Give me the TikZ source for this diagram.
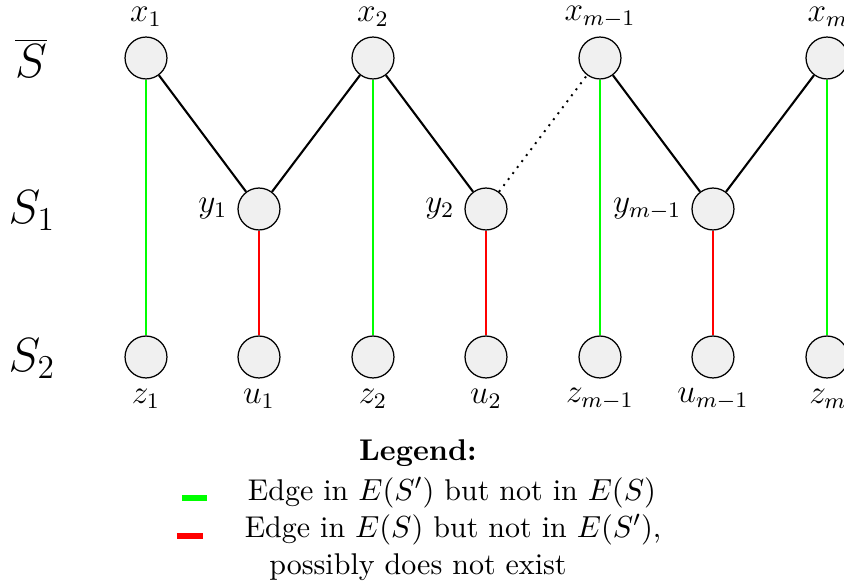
\documentclass[tikz,border=0pt]{standalone}
\usetikzlibrary{calc}
\definecolor{nodefill}{RGB}{240,240,240}
\begin{document}
\begin{tikzpicture}[x=0.36pt,y=-0.36pt,
  vtx/.style={circle,draw=black,line width=0.45pt,fill=nodefill,minimum size=15.1pt,inner sep=0pt},
  lbl/.style={font=\large,inner sep=0pt},
  setlbl/.style={font=\fontsize{18}{22}\selectfont,inner sep=0pt},
  blk/.style={line width=0.75pt,black},
  grn/.style={line width=0.75pt,green},
  rd/.style={line width=0.75pt,red},
  dot/.style={line width=0.7pt,dotted},
  legtxt/.style={font=\fontsize{10.8}{13}\selectfont,inner sep=0pt}]
\useasboundingbox (0,0) rectangle (844,588);
\clip (0,0) rectangle (844,588);
% set labels
\node[setlbl] (sbar) at (31,58) {$\overline{S}$};
\node[setlbl] (s1) at (32,211) {$S_1$};
\node[setlbl] (s2) at (32,359) {$S_2$};
% top row
\node[vtx] (x1) at (146,58) {};
\node[vtx] (x2) at (373,58) {};
\node[vtx] (xm1) at (600,58) {};
\node[vtx] (xm) at (827,58) {};
% middle row
\node[vtx] (y1) at (259,209) {};
\node[vtx] (y2) at (486,209) {};
\node[vtx] (ym1) at (713,209) {};
% bottom row
\node[vtx] (z1) at (146,357) {};
\node[vtx] (u1) at (259,357) {};
\node[vtx] (z2) at (373,357) {};
\node[vtx] (u2) at (486,357) {};
\node[vtx] (zm1) at (600,357) {};
\node[vtx] (um1) at (713,357) {};
\node[vtx] (zm) at (827,357) {};
% labels
\node[lbl] (lx1) at (146,17) {$x_1$};
\node[lbl] (lx2) at (373,17) {$x_2$};
\node[lbl] (lxm1) at (600,17) {$x_{m-1}$};
\node[lbl] (lxm) at (828,17) {$x_m$};
\node[lbl,anchor=east] (ly1) at (228,209) {$y_1$};
\node[lbl,anchor=east] (ly2) at (455,209) {$y_2$};
\node[lbl,anchor=east] (lym1) at (682,209) {$y_{m-1}$};
\node[lbl] (lz1) at (146,399) {$z_1$};
\node[lbl] (lu1) at (259,399) {$u_1$};
\node[lbl] (lz2) at (373,399) {$z_2$};
\node[lbl] (lu2) at (486,399) {$u_2$};
\node[lbl] (lzm1) at (600,399) {$z_{m-1}$};
\node[lbl] (lum1) at (713,399) {$u_{m-1}$};
\node[lbl] (lzm) at (828,399) {$z_m$};
% edges
\draw[grn] (x1) -- (z1);
\draw[grn] (x2) -- (z2);
\draw[grn] (xm1) -- (zm1);
\draw[grn] (xm) -- (zm);
\draw[rd] (y1) -- (u1);
\draw[rd] (y2) -- (u2);
\draw[rd] (ym1) -- (um1);
\draw[blk] (x1) -- (y1);
\draw[blk] (y1) -- (x2);
\draw[blk] (x2) -- (y2);
\draw[dot] (y2) -- (xm1);
\draw[blk] (xm1) -- (ym1);
\draw[blk] (ym1) -- (xm);
% legend
\node[legtxt] (legtitle) at (418,453) {\textbf{Legend:}};
\coordinate (g1) at (182,498);
\coordinate (g2) at (207,498);
\draw[green,line width=2.2pt] (g1) -- (g2);
\coordinate (r1) at (177,536);
\coordinate (r2) at (203,536);
\draw[red,line width=2.2pt] (r1) -- (r2);
\node[legtxt] (leg1) at (452,493) {Edge in $E(S')$ but not in $E(S)$};
\node[legtxt] (leg2) at (453,530) {Edge in $E(S)$ but not in $E(S')$,};
\node[legtxt] (leg3) at (418,567) {possibly does not exist};
\end{tikzpicture}
\end{document}
